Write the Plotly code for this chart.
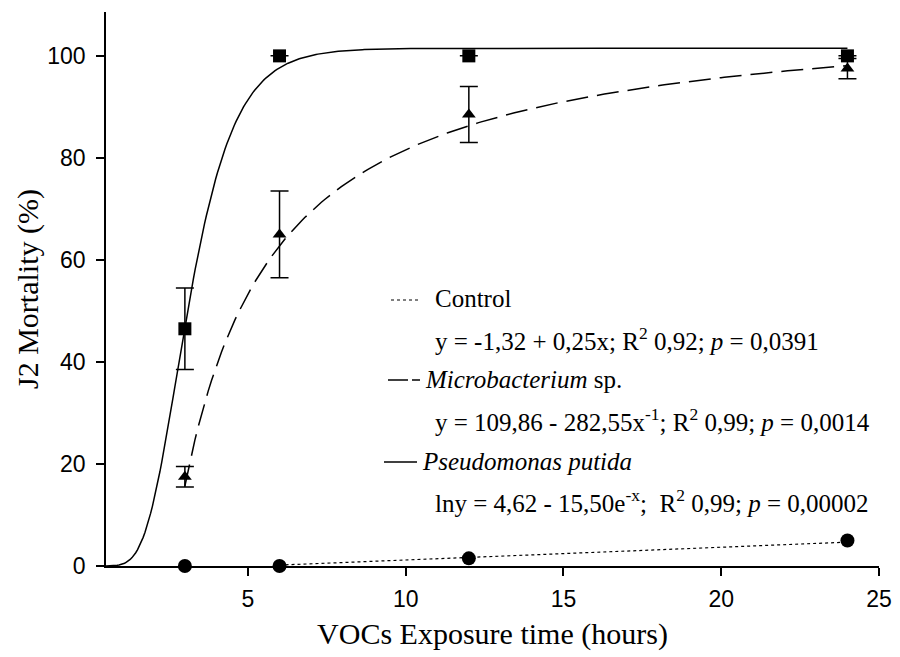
import numpy as np
import plotly.graph_objects as go

# ---- data ----
hours = [3, 6, 12, 24]
control = [0, 0, 1.5, 5]
micro = [17.5, 65, 88.5, 97.5]
micro_err = [2, 8.5, 5.5, 2]
pseudo = [46.5, 100, 100, 100]
pseudo_err = [8, 0, 0, 0]

# fitted model coefficients printed on the chart
ctrl_a, ctrl_b = -1.32, 0.25
micro_a, micro_b = 109.86, 282.55
pseudo_a, pseudo_b = 4.62, 15.50

x_tick_vals = [5, 10, 15, 20, 25]
y_tick_vals = [0, 20, 40, 60, 80, 100]

# ---- layout constants (pixels) ----
W, H = 900, 657
L, R, T, B = 106, 879, 12, 566

def px(xp):
    return (xp - L) / (R - L)

def py(yp):
    return (B - yp) / (B - T)

fig = go.Figure()

# fitted curves
xc = np.linspace(6, 24, 100)
fig.add_trace(go.Scatter(x=xc, y=ctrl_a + ctrl_b * xc, mode="lines",
                         line=dict(color="black", width=1.2, dash="dot"),
                         showlegend=False, hoverinfo="skip"))
xm = np.linspace(3, 24, 200)
fig.add_trace(go.Scatter(x=xm, y=micro_a - micro_b / xm, mode="lines",
                         line=dict(color="black", width=1.5, dash="22px,9px"),
                         showlegend=False, hoverinfo="skip"))
xpd = np.linspace(0.5, 24, 400)
fig.add_trace(go.Scatter(x=xpd, y=np.exp(pseudo_a - pseudo_b * np.exp(-xpd)), mode="lines",
                         line=dict(color="black", width=1.5),
                         showlegend=False, hoverinfo="skip"))

# data markers
fig.add_trace(go.Scatter(x=hours, y=pseudo, mode="markers",
                         marker=dict(symbol="square", size=13, color="black"),
                         error_y=dict(type="data", array=pseudo_err, color="black",
                                      thickness=1.5, width=9),
                         showlegend=False))
fig.add_trace(go.Scatter(x=hours, y=micro, mode="markers",
                         marker=dict(symbol="triangle-up", size=12, color="black"),
                         error_y=dict(type="data", array=micro_err, color="black",
                                      thickness=1.5, width=9),
                         showlegend=False))
fig.add_trace(go.Scatter(x=hours, y=control, mode="markers",
                         marker=dict(symbol="circle", size=14, color="black"),
                         showlegend=False, cliponaxis=False))

serif = "Liberation Serif"
sans = "Liberation Sans"

# legend-like text
texts = [
    (433, 298, "Control"),
    (433, 339, "y = -1,32 + 0,25x; R<sup>2</sup> 0,92; <i>p</i> = 0,0391"),
    (423, 379, "<i>Microbacterium</i> sp."),
    (433, 420, "y = 109,86 - 282,55x<sup>-1</sup>; R<sup>2</sup> 0,99; <i>p</i> = 0,0014"),
    (420, 461, "<i>Pseudomonas putida</i>"),
    (433, 501, "lny = 4,62 - 15,50e<sup>-x</sup>;  R<sup>2</sup> 0,99; <i>p</i> = 0,00002"),
]
for xp_, yp_, t in texts:
    fig.add_annotation(x=px(xp_), y=py(yp_), xref="paper", yref="paper",
                       text=t, showarrow=False, xanchor="left", yanchor="middle",
                       font=dict(family=serif, size=25, color="black"))

# legend line samples
fig.add_shape(type="line", xref="paper", yref="paper",
              x0=px(391), x1=px(421), y0=py(300), y1=py(300),
              line=dict(color="black", width=1, dash="dot"))
fig.add_shape(type="line", xref="paper", yref="paper",
              x0=px(388), x1=px(408), y0=py(380), y1=py(380),
              line=dict(color="black", width=1.5))
fig.add_shape(type="line", xref="paper", yref="paper",
              x0=px(412), x1=px(420), y0=py(380), y1=py(380),
              line=dict(color="black", width=1.5))
fig.add_shape(type="line", xref="paper", yref="paper",
              x0=px(384), x1=px(417), y0=py(462), y1=py(462),
              line=dict(color="black", width=1.5))

x_lo = 0.5
x_hi = 25
y_lo = 0
y_hi = 108.6

fig.update_layout(
    width=W, height=H,
    margin=dict(l=L, r=W - R, t=T, b=H - B, pad=0),
    paper_bgcolor="white", plot_bgcolor="white",
    xaxis=dict(range=[x_lo, x_hi], tickvals=x_tick_vals, automargin=False,
               showgrid=False, zeroline=False, showline=True,
               linecolor="black", linewidth=1.5, ticks="outside",
               ticklen=8, tickwidth=1.5, tickcolor="black",
               ticklabelstandoff=4,
               tickfont=dict(family=sans, size=23, color="black"),
               title=dict(text="VOCs Exposure time (hours)",
                          font=dict(family=serif, size=30, color="black"),
                          standoff=12)),
    yaxis=dict(range=[y_lo, y_hi], tickvals=y_tick_vals, automargin=False,
               showgrid=False, zeroline=False, showline=True,
               linecolor="black", linewidth=1.5, ticks="outside",
               ticklen=8, tickwidth=1.5, tickcolor="black",
               ticklabelstandoff=6,
               tickfont=dict(family=sans, size=23, color="black"),
               title=dict(text="J2 Mortality (%)",
                          font=dict(family=serif, size=30, color="black"),
                          standoff=0)),
)

fig.write_html("out.html")
